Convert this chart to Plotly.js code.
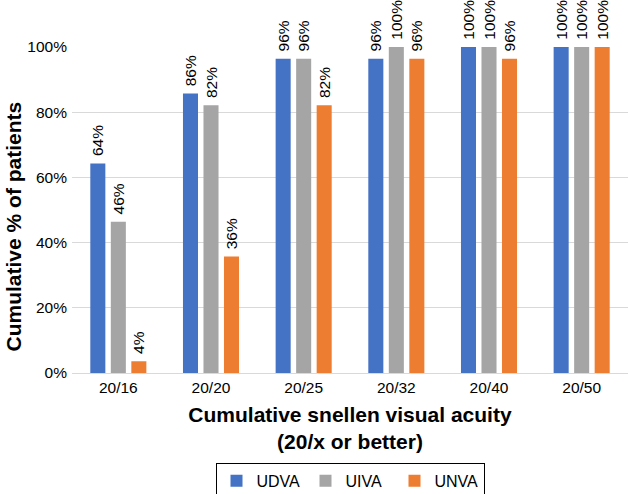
<!DOCTYPE html>
<html>
<head>
<meta charset="utf-8">
<script src="https://cdn.plot.ly/plotly-3.0.1.min.js"></script>
<style>html,body{margin:0;padding:0;background:#fff;}#chart{width:630px;height:494px;}</style>
</head>
<body>
<div id="chart"></div>
<script>
const categories = ["20/16", "20/20", "20/25", "20/32", "20/40", "20/50"];
const udva = [64.3, 85.7, 96.4, 96.4, 100, 100];
const uiva = [46.4, 82.1, 96.4, 100, 100, 100];
const unva = [3.6, 35.7, 82.1, 96.4, 96.4, 100];
const seriesNames = ["UDVA", "UIVA", "UNVA"];
const seriesColors = ["#4472C4", "#A5A5A5", "#ED7D31"];
const yTickVals = [0, 20, 40, 60, 80, 100];
const yTickText = ["0%", "20%", "40%", "60%", "80%", "100%"];

const font = "Liberation Sans, Arial, sans-serif";
const traces = [udva, uiva, unva].map((vals, i) => ({
  type: "bar",
  name: seriesNames[i],
  x: categories,
  y: vals,
  marker: {color: seriesColors[i]},
  texttemplate: "\u00a0%{y:.0f}%",
  textposition: "outside",
  textangle: -90,
  constraintext: "none",
  cliponaxis: false,
  textfont: {family: font, size: 15.5, color: "#000"},
  hoverinfo: "none"
}));

const layout = {
  width: 630, height: 494,
  margin: {l: 72, r: 2, t: 47, b: 121},
  paper_bgcolor: "#fff", plot_bgcolor: "#fff",
  barmode: "group",
  bargap: 0.336,
  bargroupgap: 0.267,
  font: {family: font, size: 15.5, color: "#000"},
  xaxis: {
    type: "category",
    showline: true, linecolor: "#d9d9d9", linewidth: 1,
    ticks: "", tickfont: {family: font, size: 15.5},
    title: {text: "<b>Cumulative snellen visual acuity<br>(20/x or better)</b>", font: {family: font, size: 21}, standoff: 12}
  },
  yaxis: {
    range: [0, 100],
    tickvals: yTickVals, ticktext: yTickText,
    showgrid: true, gridcolor: "#d9d9d9", gridwidth: 1,
    zeroline: false, showline: false, ticks: "",
    ticklabelstandoff: 4,
    tickfont: {family: font, size: 15.5}
  },
  annotations: [{
    text: "<b>Cumulative % of patients</b>",
    textangle: -90,
    xref: "paper", yref: "paper",
    x: -0.1295, xanchor: "left",
    y: 0.451, yanchor: "middle",
    showarrow: false,
    font: {family: font, size: 21, color: "#000"}
  }],
  showlegend: true,
  legend: {
    orientation: "h", x: 0.5, xref: "paper", xanchor: "center",
    y: 0.063, yref: "container", yanchor: "top",
    bordercolor: "#000", borderwidth: 1,
    font: {family: font, size: 16},
    itemwidth: 30,
    entrywidth: 44, entrywidthmode: "pixels"
  }
};

Plotly.newPlot("chart", traces, layout, {displayModeBar: false, staticPlot: true});
</script>
</body>
</html>
